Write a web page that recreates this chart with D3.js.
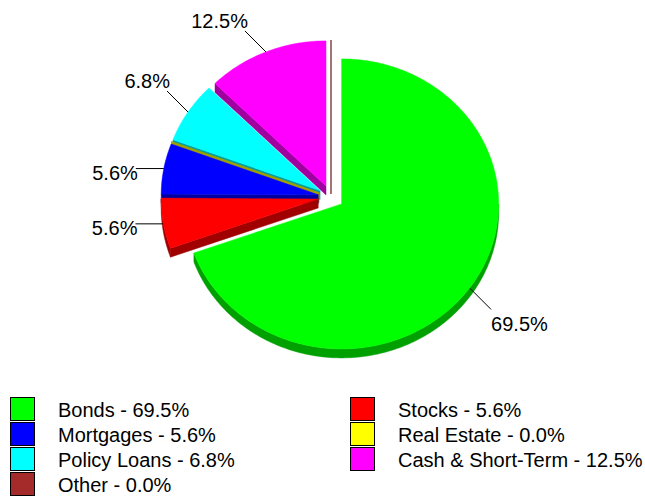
<!DOCTYPE html>
<html>
<head>
<meta charset="utf-8">
<script src="https://cdn.jsdelivr.net/npm/d3@7"></script>
<style>
  body { margin: 0; background: #fff; }
  svg { display: block; }
  text { font-family: "Liberation Sans", Arial, sans-serif; font-size: 20px; fill: #000; }
</style>
</head>
<body>
<svg id="chart" width="645" height="496"></svg>
<script>
// Portfolio allocation
const categories = ["Bonds", "Stocks", "Mortgages", "Real Estate", "Policy Loans", "Cash & Short-Term", "Other"];
const values = [69.5, 5.6, 5.6, 0.0, 6.8, 12.5, 0.0];
const colors = ["#00ff00", "#ff0000", "#0000ff", "#ffff00", "#00ffff", "#ff00ff", "#a52a2a"];

// Tilted pie geometry
const cx = 331, cy = 197;      // pie centre
const rx = 157, ry = 145;      // ellipse radii of the top face
const depth = 9;               // thickness of the pie
const explode = 13;            // distance each slice is pulled out

const svg = d3.select("#chart");
const color = d3.scaleOrdinal(categories, colors);
const data = categories.map((name, i) => ({ name, value: values[i] }));
const arcs = d3.pie().sort(null).value(d => d.value)(data);

const mid = a => (a.startAngle + a.endAngle) / 2;
function apex(a) {
  const m = mid(a);
  return [cx + explode * Math.sin(m), cy - explode * Math.cos(m) * ry / rx];
}
function rim(a, t, dy = 0) {
  const p = apex(a);
  return [p[0] + rx * Math.sin(t), p[1] - ry * Math.cos(t) + dy];
}
function arcPts(a, t0, t1, dy) {
  const n = Math.max(1, Math.ceil(Math.abs(t1 - t0) / (Math.PI / 180)));
  return d3.range(n + 1).map(i => rim(a, t0 + (t1 - t0) * i / n, dy));
}
const poly = pts => "M" + pts.map(p => p[0].toFixed(2) + "," + p[1].toFixed(2)).join("L") + "Z";
const shade = c => d3.color(c).darker(1.3).formatHex();

// back-to-front drawing order
const order = arcs.slice().sort((a, b) => (-Math.cos(mid(a))) - (-Math.cos(mid(b))));

const pieG = svg.append("g");
order.forEach(a => {
  const c = color(a.data.name);
  const dark = shade(c);
  const g = pieG.append("g");
  const s = a.startAngle, e = a.endAngle;
  const zero = (e - s) === 0;
  const p = apex(a);

  // outer rim wall (front half only)
  const lo = Math.max(s, Math.PI / 2), hi = Math.min(e, 3 * Math.PI / 2);
  if (lo < hi) {
    g.append("path")
      .attr("d", poly(arcPts(a, lo, hi, 0).concat(arcPts(a, hi, lo, depth))))
      .attr("fill", dark).attr("stroke", dark).attr("stroke-width", 0.5);
  }
  // radial walls
  if (Math.sin(s) < -1e-6 || zero) {
    const o = rim(a, s);
    g.append("path")
      .attr("d", poly([p, o, [o[0], o[1] + depth], [p[0], p[1] + depth]]))
      .attr("fill", dark).attr("stroke", dark).attr("stroke-width", zero ? 1.2 : 0.5);
  }
  if (Math.sin(e) > 1e-6 && !zero) {
    const o = rim(a, e);
    g.append("path")
      .attr("d", poly([p, o, [o[0], o[1] + depth], [p[0], p[1] + depth]]))
      .attr("fill", dark);
  }
  // top face
  if (!zero) {
    g.append("path")
      .attr("d", poly([p].concat(arcPts(a, s, e, 0))))
      .attr("fill", c).attr("stroke", c).attr("stroke-width", 0.5);
  }
});

// leader lines and percentage labels
const labelG = svg.append("g");
arcs.filter(a => a.data.value > 0).forEach(a => {
  const m = mid(a);
  const st = rim(a, m, 2 * Math.max(0, -Math.cos(m)));
  const sx = Math.sign(Math.sin(m)), sy = Math.sign(-Math.cos(m));
  const horizontal = Math.abs(Math.sin(m)) > 0.9;
  const en = horizontal ? [st[0] + sx * 28, st[1]] : [st[0] + sx * 21, st[1] + sy * 21];
  labelG.append("line")
    .attr("x1", st[0]).attr("y1", st[1]).attr("x2", en[0]).attr("y2", en[1])
    .attr("stroke", "#000").attr("stroke-width", 1);
  let tx, ty;
  if (horizontal) { tx = en[0] + (sx < 0 ? 2 : -2); ty = en[1] + 11; }
  else { tx = en[0] + (sx < 0 ? 3 : 0); ty = sy < 0 ? en[1] - 3 : en[1] + 22; }
  labelG.append("text")
    .attr("x", tx).attr("y", ty)
    .attr("text-anchor", sx < 0 ? "end" : "start")
    .text(a.data.value.toFixed(1) + "%");
});

// legend: two columns, filled row by row
const legend = svg.append("g");
const colX = [10, 350], rowY0 = 397, rowH = 25;
data.forEach((d, i) => {
  const x = colX[i % 2], y = rowY0 + Math.floor(i / 2) * rowH;
  legend.append("rect")
    .attr("x", x + 0.5).attr("y", y + 0.5).attr("width", 24).attr("height", 23)
    .attr("fill", color(d.name)).attr("stroke", "#000").attr("stroke-width", 1);
  legend.append("text")
    .attr("x", x + 48).attr("y", y + 20)
    .text(d.name + " - " + d.value.toFixed(1) + "%");
});
</script>
</body>
</html>
